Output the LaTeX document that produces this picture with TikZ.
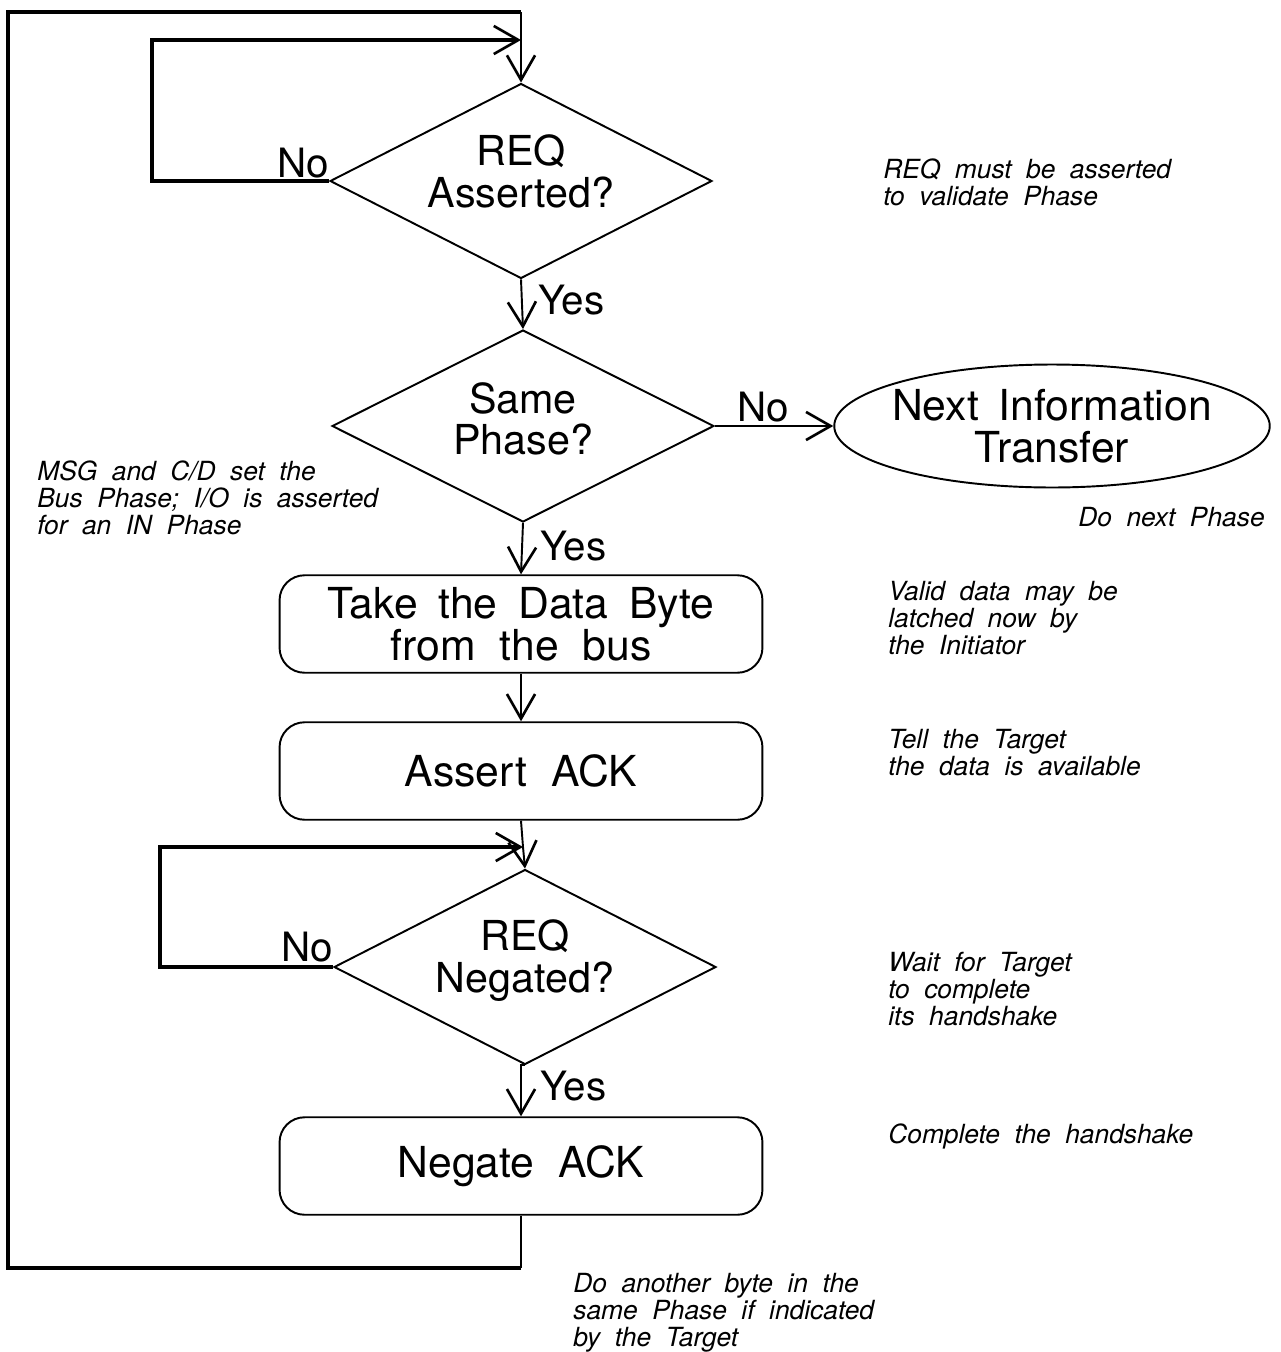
\documentclass[tikz,border=0pt]{standalone}
\usepackage{fontspec}
\setmainfont{TeX Gyre Heros}[WordSpace=1.6]
\newfontfamily\notefont{TeX Gyre Heros}[WordSpace=2]
\usetikzlibrary{shapes.geometric,arrows.meta}

\begin{document}
\begin{tikzpicture}[x=0.02cm, y=-0.02cm,
  >={Straight Barb[length=14pt,width=16pt,line width=1.5pt]},
  widewords/.style={execute at begin node={\spaceskip=#1 plus 0.1em\relax}},
  decision/.style={diamond, draw, line width=1.1pt, shape aspect=2,
    minimum width=7.64cm, minimum height=3.9cm, inner sep=0pt, align=center,
    font=\fontsize{23.5}{23.8}\selectfont},
  process/.style={rectangle, rounded corners=0.5cm, draw, line width=1.1pt,
    minimum width=9.66cm, minimum height=1.95cm, inner sep=0pt,
    text width=8.6cm, align=center, widewords=0.46em,
    font=\fontsize{24.3}{23.8}\selectfont},
  terminal/.style={ellipse, draw, line width=1.1pt,
    minimum width=8.7cm, minimum height=2.46cm, inner xsep=-0.22cm, inner ysep=0pt,
    text width=6.6cm, align=center, widewords=0.46em,
    font=\fontsize{24.3}{23.8}\selectfont},
  flow/.style={line width=1.1pt},
  loopline/.style={line width=2.3pt},
  answer/.style={inner sep=0pt, font=\fontsize{23}{23}\selectfont},
  notetext/.style={inner sep=0pt, widewords=0.55em,
    font=\notefont\fontsize{15}{15.4}\selectfont\itshape},
  note/.style={notetext, anchor=base west, text width=9cm, align=left}
]
\useasboundingbox (0,0) rectangle (1281,1352);

% flowchart blocks
\node[decision, text depth=11.5pt] (q1) at (521,181) {REQ\\Asserted?};
\node[decision, minimum height=3.84cm, text depth=8.5pt] (q2) at (523,426) {Same\\Phase?};
\node[terminal] (nit) at (1052,426) {Next Information\\Transfer};
\node[process] (take) at (521,624) {Take the Data Byte\\from the bus};
\node[process] (ack) at (521,771) {Assert ACK};
\node[decision, text depth=12pt] (q3) at (525,967) {REQ\\Negated?};
\node[process] (neg) at (521,1166) {Negate ACK};

% junction and corner points
\coordinate (j1) at (521,40);
\coordinate (j2) at (523,847);
\coordinate (l1) at (152,181);
\coordinate (l1t) at (152,40);
\coordinate (l3) at (160,967);
\coordinate (l3t) at (160,847);
\coordinate (botR) at (521,1268);
\coordinate (botL) at (8,1268);
\coordinate (topL) at (8,12);
\coordinate (topR) at (521,12);

% main flow
\draw[flow, ->] (j1) -- (q1.north);
\draw[flow, ->] (q1.south) -- (q2.north);
\draw[flow, ->] (q2.south) -- (take.north);
\draw[flow, ->] (take.south) -- (ack.north);
\draw[flow] (ack.south) -- (j2);
\draw[flow, ->] (j2) -- (q3.north);
\draw[flow, ->] (q3.south) -- (neg.south |- q3.south) -- (neg.north);
\draw[line width=1.6pt, ->] (q2.east) -- (nit.west);

% wait loops
\draw[loopline, ->] (q1.west) -- (l1) -- (l1t) -- (j1);
\draw[loopline, ->] (q3.west) -- (l3) -- (l3t) -- (j2);

% return loop for the next byte
\draw[flow] (neg.south) -- (botR);
\draw[loopline] (botR) -- (botL) -- (topL) -- (topR);
\draw[flow] (topR) -- (j1);

% branch labels
\node[answer, anchor=base east] (no1) at (329,177) {No};
\node[answer, anchor=base west] (yes1) at (538,314) {Yes};
\node[answer, anchor=base west] (no2) at (737,421) {No};
\node[answer, anchor=base west] (yes2) at (540,560) {Yes};
\node[answer, anchor=base east] (no3) at (333,961) {No};
\node[answer, anchor=base west] (yes3) at (540,1100) {Yes};

% comments
\node[note] (c1) at (883,178) {REQ must be asserted\\to validate Phase};
\node[note] (c2) at (37,480) {MSG and C/D set the\\Bus Phase; I/O is asserted\\for an IN Phase};
\node[notetext, anchor=base east] (c3) at (1265,526) {Do next Phase};
\node[note] (c4) at (888,600) {Valid data may be\\latched now by\\the Initiator};
\node[note] (c5) at (888,748) {Tell the Target\\the data is available};
\node[note] (c6) at (888,971) {Wait for Target\\to complete\\its handshake};
\node[note] (c7) at (888,1143) {Complete the handshake};
\node[note] (c8) at (573,1292) {Do another byte in the\\same Phase if indicated\\by the Target};
\end{tikzpicture}
\end{document}
